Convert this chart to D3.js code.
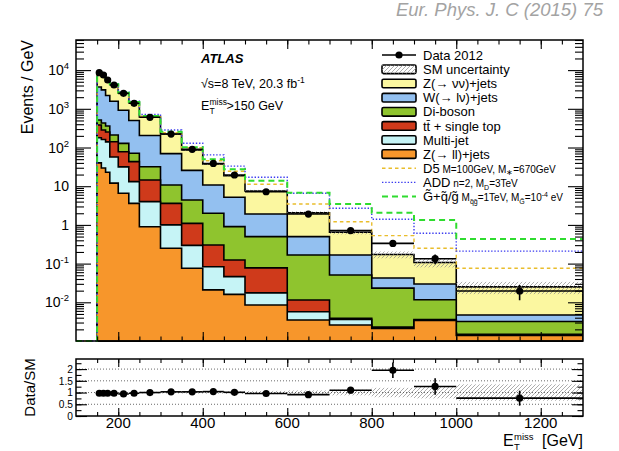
<!DOCTYPE html>
<html>
<head>
<meta charset="utf-8">
<script src="https://cdn.jsdelivr.net/npm/d3@7"></script>
<style>
  body { margin: 0; background: #fff; }
  svg { display: block; }
  text { font-family: "Liberation Sans", Arial, Helvetica, sans-serif; fill: #000; }
</style>
</head>
<body>
<svg id="chart" width="619" height="451"></svg>
<script>
// E_T^miss bin edges [GeV]
const binEdges = [150, 160, 170, 180, 200, 225, 250, 300, 350, 400, 450, 500, 600, 700, 800, 900, 1000, 1300];

// SM background predictions, Events / GeV (stacked bottom to top)
const zll      = [40, 29.5, 23, 12, 6.6, 3.6, 0.9, 0.25, 0.076, 0.021, 0.016, 0.0085, 0.0035, 0.0026, 0.0021, 0.0034, 0.0014];
const multijet = [138, 131, 117, 45, 25, 9.5, 3.1, 0.75, 0.22, 0.062, 0.03, 0.009, 0.0022, 0.001, 0.0001, 0.0001, 0.00005];
const ttbar    = [204, 123, 111, 84, 46, 30, 10.5, 2.6, 0.8, 0.22, 0.078, 0.06, 0.0058, 0.00025, 0.0001, 0.0001, 0.00005];
const diboson  = [132, 147, 109, 69, 50, 28, 17.4, 7.1, 3.3, 1.7, 0.78, 0.42, 0.156, 0.047, 0.021, 0.008, 0.0017];
const wjets    = [3146, 2654, 1840, 1363, 787, 427, 173, 59, 21.2, 8.7, 4.3, 1.42, 0.33, 0.116, 0.019, 0.018, 0.0015];
const zvv      = [5175, 4627, 3522, 2674, 1646, 947, 410, 153, 61, 26.9, 13.4, 5.6, 1.55, 0.48, 0.129, 0.077, 0.0203];

// relative SM uncertainty per bin
const smRelUnc = [0.03, 0.03, 0.03, 0.03, 0.03, 0.03, 0.035, 0.04, 0.045, 0.05, 0.06, 0.07, 0.09, 0.12, 0.2, 0.25, 0.35];

// observed data 2012, Events / GeV
const data2012 = [8570, 7480, 5550, 4120, 2510, 1387, 603, 223, 89.5, 38.7, 19.5, 7.2, 1.91, 0.71, 0.333, 0.134, 0.0196];

// Data / SM ratio and its uncertainty
const ratioVals = [0.97, 0.97, 0.97, 0.97, 0.94, 0.97, 1.0, 1.03, 1.03, 1.04, 1.01, 0.96, 0.91, 1.1, 1.95, 1.26, 0.76];
const ratioErr  = [0.01, 0.01, 0.01, 0.01, 0.01, 0.01, 0.012, 0.015, 0.02, 0.025, 0.032, 0.036, 0.065, 0.13, 0.33, 0.35, 0.32];

// SM + signal expectations, Events / GeV
const sigD5   = [8917, 7789, 5794, 4312, 2613, 1485, 643, 241, 99, 45.6, 24.3, 11.2, 3.47, 1.21, 0.53, 0.249, 0.076];
const sigADD  = [9135, 7981, 5962, 4457, 2736, 1580, 714, 283, 129, 64.6, 33, 17.0, 6.6, 2.69, 1.40, 0.61, 0.21];
const sigGMSB = [8915, 7786, 5792, 4309, 2616, 1491, 652, 256, 101, 49.6, 27.3, 13.9, 6.8, 3.47, 2.07, 1.34, 0.43];

// axis ticks
const xTicks = [200, 400, 600, 800, 1000, 1200];
const xTickLabels = ["200", "400", "600", "800", "1000", "1200"];
const yTicks = [1e-2, 1e-1, 1, 10, 1e2, 1e3, 1e4];
const yTickLabels = [["10", "-2"], ["10", "-1"], ["1", ""], ["10", ""], ["10", "2"], ["10", "3"], ["10", "4"]];
const rTicks = [0, 0.5, 1, 1.5, 2];
const rTickLabels = ["0", "0.5", "1", "1.5", "2"];

// ---------------------------------------------------------------
const svg = d3.select("#chart");
const L = 76, R = 583, T = 40, B = 341, RT = 359, RB = 416;

const x = d3.scaleLinear().domain([100, 1300]).range([L, R]);
const y = d3.scaleLog().domain([1e-3, 6e4]).range([B, T]).clamp(true);
const yr = d3.scaleLinear().domain([0, 2.43]).range([RB, RT]).clamp(true);

const nb = binEdges.length - 1;
const centers = d3.range(nb).map(i => (binEdges[i] + binEdges[i + 1]) / 2);

const defs = svg.append("defs");
const hatch = defs.append("pattern").attr("id", "hatch")
  .attr("patternUnits", "userSpaceOnUse").attr("width", 4).attr("height", 4);
hatch.append("path").attr("d", "M-1,1 l2,-2 M0,4 l4,-4 M3,5 l2,-2")
  .attr("stroke", "#8a8a8a").attr("stroke-width", 0.7);
defs.append("clipPath").attr("id", "clipMain").append("rect")
  .attr("x", L).attr("y", T).attr("width", R - L).attr("height", B - T + 1.5);
defs.append("clipPath").attr("id", "clipRatio").append("rect")
  .attr("x", L).attr("y", RT).attr("width", R - L).attr("height", RB - RT);

// rich text helper: segments {t, s (size), sh (vertical shift), x (optional absolute x)}
function rich(g, px, py, segs, anchor) {
  const t = g.append("text").attr("x", px).attr("y", py).attr("text-anchor", anchor || "start");
  let cur = 0;
  segs.forEach(sg => {
    const sh = sg.sh || 0;
    const ts = t.append("tspan").attr("dy", sh - cur).attr("font-size", sg.s).text(sg.t);
    if (sg.x !== undefined) ts.attr("x", sg.x);
    cur = sh;
  });
  return t;
}

// step helpers
const stepPts = vals => {
  const p = vals.map((v, i) => [binEdges[i], v]);
  p.push([binEdges[nb], vals[nb - 1]]);
  return p;
};
const stepArea = d3.area().curve(d3.curveStepAfter)
  .x(d => x(d[0])).y0(B).y1(d => y(d[1]));
const stepLine = d3.line().curve(d3.curveStepAfter)
  .x(d => x(d[0])).y(d => y(d[1]));

// ---------------- main panel ----------------
const main = svg.append("g");
const plot = main.append("g").attr("clip-path", "url(#clipMain)");

const layers = [zll, multijet, ttbar, diboson, wjets, zvv];
const colors = ["#f7962b", "#c6f4f6", "#cf3a1b", "#8fc42e", "#93c0f0", "#fbf7a0"];
const cumul = layers.map((_, k) => d3.range(nb).map(i => d3.sum(layers.slice(0, k + 1), s => s[i])));
const smTotal = cumul[cumul.length - 1];

for (let k = layers.length - 1; k >= 0; k--) {
  plot.append("path").attr("d", stepArea(stepPts(cumul[k])))
    .attr("fill", colors[k]).attr("stroke", "#000").attr("stroke-width", 1.6)
    .attr("stroke-linejoin", "miter");
}

// SM uncertainty band
plot.selectAll("rect.unc").data(d3.range(nb)).join("rect")
  .attr("x", i => x(binEdges[i])).attr("width", i => x(binEdges[i + 1]) - x(binEdges[i]))
  .attr("y", i => y(smTotal[i] * (1 + smRelUnc[i])))
  .attr("height", i => y(smTotal[i] * (1 - smRelUnc[i])) - y(smTotal[i] * (1 + smRelUnc[i])))
  .attr("fill", "url(#hatch)");

// frame
main.append("rect").attr("x", L).attr("y", T).attr("width", R - L).attr("height", B - T)
  .attr("fill", "none").attr("stroke", "#000").attr("stroke-width", 1.5);

// signal expectations
const signals = [
  { vals: sigD5, color: "#e9bd2c", dash: "3.5,3", w: 1.4 },
  { vals: sigADD, color: "#3b3bf0", dash: "1.4,1.8", w: 1.4 },
  { vals: sigGMSB, color: "#2fdc2f", dash: "6,4", w: 2 }
];
signals.forEach(s => {
  plot.append("path").attr("d", stepLine([[100, 1e-3]].concat(stepPts(s.vals))))
    .attr("fill", "none").attr("stroke", s.color).attr("stroke-width", s.w)
    .attr("stroke-dasharray", s.dash);
});

// data points
const dataG = plot.append("g");
d3.range(nb).forEach(i => {
  const v = data2012[i], e = v * ratioErr[i] / ratioVals[i];
  dataG.append("line").attr("x1", x(binEdges[i])).attr("x2", x(binEdges[i + 1]))
    .attr("y1", y(v)).attr("y2", y(v)).attr("stroke", "#000").attr("stroke-width", 1.6);
  dataG.append("line").attr("x1", x(centers[i])).attr("x2", x(centers[i]))
    .attr("y1", y(v + e)).attr("y2", y(Math.max(v - e, 1e-3))).attr("stroke", "#000").attr("stroke-width", 1.6);
  dataG.append("circle").attr("cx", x(centers[i])).attr("cy", y(v)).attr("r", 3.6).attr("fill", "#000");
});

// ticks, main panel
const minorX = d3.range(150, 1300, 50);
const logMinor = [];
for (let d = -3; d <= 4; d++) for (let k = 2; k <= 9; k++) {
  const v = k * Math.pow(10, d);
  if (v <= 6e4) logMinor.push(v);
}
const noLab = () => "";
function axisG(g, axis) { g.call(axis); g.select(".domain").remove(); g.selectAll("line").attr("stroke", "#000").attr("stroke-width", 1.1); }
axisG(main.append("g").attr("transform", `translate(0,${B})`), d3.axisBottom(x).tickValues(minorX).tickSize(-4.5).tickFormat(noLab));
axisG(main.append("g").attr("transform", `translate(0,${B})`), d3.axisBottom(x).tickValues(xTicks).tickSize(-9).tickFormat(noLab));
axisG(main.append("g").attr("transform", `translate(0,${T})`), d3.axisTop(x).tickValues(minorX).tickSize(-4.5).tickFormat(noLab));
axisG(main.append("g").attr("transform", `translate(0,${T})`), d3.axisTop(x).tickValues(xTicks).tickSize(-9).tickFormat(noLab));
axisG(main.append("g").attr("transform", `translate(${L},0)`), d3.axisLeft(y).tickValues(logMinor).tickSize(-8).tickFormat(noLab));
axisG(main.append("g").attr("transform", `translate(${L},0)`), d3.axisLeft(y).tickValues(yTicks).tickSize(-15).tickFormat(noLab));
axisG(main.append("g").attr("transform", `translate(${R},0)`), d3.axisRight(y).tickValues(logMinor).tickSize(-8).tickFormat(noLab));
axisG(main.append("g").attr("transform", `translate(${R},0)`), d3.axisRight(y).tickValues(yTicks).tickSize(-15).tickFormat(noLab));

yTicks.forEach((v, i) => {
  const [base, sup] = yTickLabels[i];
  const segs = [{ t: base, s: 14, sh: 0 }];
  if (sup) segs.push({ t: sup, s: 9.5, sh: -6 });
  rich(main, 69, y(v) + 5, segs, "end");
});

// y title
main.append("text").attr("transform", `translate(33,${T}) rotate(-90)`)
  .attr("text-anchor", "end").attr("font-size", 16).text("Events / GeV");

// labels inside the plot
main.append("text").attr("x", 201).attr("y", 63).attr("font-size", 13)
  .attr("font-weight", "bold").attr("font-style", "italic").text("ATLAS");
rich(main, 201, 88, [
  { t: "\u221As=8 TeV, 20.3 fb", s: 12.5, sh: 0 },
  { t: "-1", s: 8.5, sh: -5 }
]);
rich(main, 201, 110, [
  { t: "E", s: 12.5, sh: 0 },
  { t: "miss", s: 8.5, sh: -5, x: 209.5 },
  { t: "T", s: 8.5, sh: 3.5, x: 209.5 },
  { t: ">150 GeV", s: 12.5, sh: 0, x: 226.5 }
]);

// legend
const leg = main.append("g");
const lx0 = 382, lx1 = 416, ltx = 423;
const rowY = [55, 69.3, 83.5, 97.7, 111.8, 125.9, 140, 154.1, 168.2, 182.4, 196.6];
leg.append("line").attr("x1", lx0).attr("x2", lx1).attr("y1", rowY[0]).attr("y2", rowY[0])
  .attr("stroke", "#000").attr("stroke-width", 1.6);
leg.append("circle").attr("cx", (lx0 + lx1) / 2).attr("cy", rowY[0]).attr("r", 3.6);
leg.append("text").attr("x", ltx).attr("y", rowY[0] + 4.6).attr("font-size", 13).text("Data 2012");

leg.append("rect").attr("x", lx0).attr("y", rowY[1] - 4.3).attr("width", lx1 - lx0).attr("height", 8.6)
  .attr("rx", 1.5).attr("fill", "#fff").attr("stroke", "#000").attr("stroke-width", 1.6);
leg.append("rect").attr("x", lx0).attr("y", rowY[1] - 4.3).attr("width", lx1 - lx0).attr("height", 8.6)
  .attr("fill", "url(#hatch)");
leg.append("text").attr("x", ltx).attr("y", rowY[1] + 4.6).attr("font-size", 13).text("SM uncertainty");

const bgNames = ["Z(\u2192 \u03BD\u03BD)+jets", "W(\u2192 l\u03BD)+jets", "Di-boson", "tt\u0304 + single top", "Multi-jet", "Z(\u2192 ll)+jets"];
bgNames.forEach((nm, j) => {
  const k = layers.length - 1 - j;
  const yy = rowY[2 + j];
  leg.append("rect").attr("x", lx0).attr("y", yy - 4.3).attr("width", lx1 - lx0).attr("height", 8.6)
    .attr("rx", 1.5).attr("fill", colors[k]).attr("stroke", "#000").attr("stroke-width", 1.6);
  leg.append("text").attr("x", ltx).attr("y", yy + 4.6).attr("font-size", 13).text(nm);
});

signals.forEach((s, j) => {
  const yy = rowY[8 + j];
  leg.append("line").attr("x1", lx0).attr("x2", lx1).attr("y1", yy).attr("y2", yy)
    .attr("stroke", s.color).attr("stroke-width", s.w).attr("stroke-dasharray", s.dash);
});
rich(leg, ltx, rowY[8] + 4.6, [
  { t: "D5", s: 13, sh: 0 },
  { t: " M=100GeV, M", s: 10, sh: 0 },
  { t: "\u2217", s: 8, sh: 2.5 },
  { t: "=670GeV", s: 10, sh: 0 }
]);
rich(leg, ltx, rowY[9] + 4.6, [
  { t: "ADD", s: 13, sh: 0 },
  { t: " n=2, M", s: 10, sh: 0 },
  { t: "D", s: 7, sh: 2.5 },
  { t: "=3TeV", s: 10, sh: 0 }
]);
rich(leg, ltx, rowY[10] + 4.6, [
  { t: "G\u0303+q\u0303/g\u0303", s: 13, sh: 0 },
  { t: " M", s: 10, sh: 0 },
  { t: "q\u0303g\u0303", s: 7, sh: 2.5 },
  { t: "=1TeV, M", s: 10, sh: 0 },
  { t: "G\u0303", s: 7, sh: 2.5 },
  { t: "=10", s: 10, sh: 0 },
  { t: "-4", s: 7, sh: -4 },
  { t: " eV", s: 10, sh: 0 }
]);

// ---------------- ratio panel ----------------
const rat = svg.append("g");
const rplot = rat.append("g").attr("clip-path", "url(#clipRatio)");

rplot.selectAll("rect.unc").data(d3.range(nb)).join("rect")
  .attr("x", i => x(binEdges[i])).attr("width", i => x(binEdges[i + 1]) - x(binEdges[i]))
  .attr("y", i => yr(1 + smRelUnc[i])).attr("height", i => yr(1 - smRelUnc[i]) - yr(1 + smRelUnc[i]))
  .attr("fill", "url(#hatch)");

[0.5, 1, 1.5, 2].forEach(v => {
  rplot.append("line").attr("x1", L).attr("x2", R).attr("y1", yr(v)).attr("y2", yr(v))
    .attr("stroke", "#444").attr("stroke-width", 0.8).attr("stroke-dasharray", "1,2");
});

d3.range(nb).forEach(i => {
  const v = ratioVals[i], e = ratioErr[i];
  rplot.append("line").attr("x1", x(binEdges[i])).attr("x2", x(binEdges[i + 1]))
    .attr("y1", yr(v)).attr("y2", yr(v)).attr("stroke", "#000").attr("stroke-width", 1.6);
  rplot.append("line").attr("x1", x(centers[i])).attr("x2", x(centers[i]))
    .attr("y1", yr(v + e)).attr("y2", yr(v - e)).attr("stroke", "#000").attr("stroke-width", 1.6);
  rplot.append("circle").attr("cx", x(centers[i])).attr("cy", yr(v)).attr("r", 3.6).attr("fill", "#000");
});

rat.append("rect").attr("x", L).attr("y", RT).attr("width", R - L).attr("height", RB - RT)
  .attr("fill", "none").attr("stroke", "#000").attr("stroke-width", 1.5);

const rMinor = d3.range(0, 2.43, 0.25);
axisG(rat.append("g").attr("transform", `translate(0,${RB})`), d3.axisBottom(x).tickValues(minorX).tickSize(-4).tickFormat(noLab));
axisG(rat.append("g").attr("transform", `translate(0,${RB})`), d3.axisBottom(x).tickValues(xTicks).tickSize(-8).tickFormat(noLab));
axisG(rat.append("g").attr("transform", `translate(0,${RT})`), d3.axisTop(x).tickValues(minorX).tickSize(-4).tickFormat(noLab));
axisG(rat.append("g").attr("transform", `translate(0,${RT})`), d3.axisTop(x).tickValues(xTicks).tickSize(-8).tickFormat(noLab));
axisG(rat.append("g").attr("transform", `translate(${L},0)`), d3.axisLeft(yr).tickValues(rMinor).tickSize(-5.5).tickFormat(noLab));
axisG(rat.append("g").attr("transform", `translate(${L},0)`), d3.axisLeft(yr).tickValues(rTicks).tickSize(-11).tickFormat(noLab));
axisG(rat.append("g").attr("transform", `translate(${R},0)`), d3.axisRight(yr).tickValues(rMinor).tickSize(-5.5).tickFormat(noLab));
axisG(rat.append("g").attr("transform", `translate(${R},0)`), d3.axisRight(yr).tickValues(rTicks).tickSize(-11).tickFormat(noLab));

rTicks.forEach((v, i) => {
  rat.append("text").attr("x", 73).attr("y", yr(v) + 3.7).attr("text-anchor", "end")
    .attr("font-size", 10.2).text(rTickLabels[i]);
});
xTicks.forEach((v, i) => {
  rat.append("text").attr("x", x(v)).attr("y", 428).attr("text-anchor", "middle")
    .attr("font-size", 15).text(xTickLabels[i]);
});

rat.append("text").attr("transform", `translate(35,${(RT + RB) / 2}) rotate(-90)`)
  .attr("text-anchor", "middle").attr("font-size", 15).text("Data/SM");

// x title: E_T^miss [GeV], right aligned at the frame edge
rich(rat, R - 80, 446, [
  { t: "E", s: 16, sh: 0 },
  { t: "miss", s: 9.5, sh: -6, x: R - 69 },
  { t: "T", s: 9.5, sh: 4, x: R - 69 },
  { t: "[GeV]", s: 16, sh: 0, x: R - 41 }
]);

// publication reference
svg.append("text").attr("x", 603).attr("y", 16).attr("text-anchor", "end")
  .attr("font-family", "Lato, 'Open Sans', sans-serif").attr("font-style", "italic")
  .attr("font-size", 18.5).style("fill", "#a3a3a3").text("Eur. Phys. J. C (2015) 75");
</script>
</body>
</html>
